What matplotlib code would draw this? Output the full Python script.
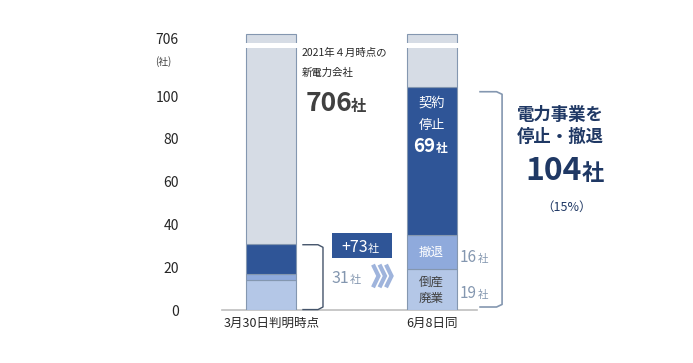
import numpy as np
import matplotlib
matplotlib.use("Agg")
import matplotlib.pyplot as plt
from matplotlib.patches import Rectangle

plt.rcParams['font.family'] = ['Noto Sans CJK JP', 'DejaVu Sans']

# ---- data ----
categories = ["3月30日判明時点", "6月8日同"]
total_companies = 706
seg_bottom = [14, 19]     # 倒産・廃業 (light)
seg_mid = [3, 16]         # 撤退
seg_top = [14, 69]        # 契約停止
ytick_vals = [0, 20, 40, 60, 80, 100]

c_light = '#b4c7e7'
c_mid = '#8faadc'
c_dark = '#2f5597'
c_rest = '#d6dce5'
c_edge = '#8497b0'
c_navy = '#1f3864'
c_gb = '#8497b0'

# broken-axis scale
BRK = 120.0
K = 9.0 / (total_companies - BRK)


def fwd(v):
    v = np.asarray(v, dtype=float)
    return np.where(v <= BRK, v, BRK + (v - BRK) * K)


def inv(d):
    d = np.asarray(d, dtype=float)
    return np.where(d <= BRK, d, BRK + (d - BRK) / K)


fig = plt.figure(figsize=(6.93, 3.63), dpi=100)
ax = fig.add_axes([222 / 693, 53 / 363, 255 / 693, 2.14 * 130 / 363])
ax.set_yscale('function', functions=(fwd, inv))
ax.set_xlim(-0.309, 1.284)
ax.set_ylim(0, float(inv(130)))

x = np.arange(len(categories))
w = 0.3125
b = np.array(seg_bottom)
m = np.array(seg_mid)
t = np.array(seg_top)
rest = total_companies - (b + m + t)

ax.bar(x, b, w, color=c_light, edgecolor=c_edge, linewidth=0.8, zorder=2)
ax.bar(x, m, w, bottom=b, color=c_mid, edgecolor=c_edge, linewidth=0.8, zorder=2)
ax.bar(x, t, w, bottom=b + m, color=c_dark, edgecolor=c_edge, linewidth=0.8, zorder=2)
ax.bar(x, rest, w, bottom=b + m + t, color=c_rest, edgecolor=c_edge, linewidth=0.8, zorder=2)

# break gap
g0, g1 = float(inv(122.2)), float(inv(124.6))
for xi in x:
    ax.add_patch(Rectangle((xi - w / 2 - 0.02, g0), w + 0.04, g1 - g0,
                           facecolor='white', edgecolor='none', zorder=3, clip_on=False))

# axes styling
for s in ['top', 'right', 'left']:
    ax.spines[s].set_visible(False)
ax.spines['bottom'].set_color('#bfbfbf')
ax.spines['bottom'].set_linewidth(1.2)
ax.spines['bottom'].set_zorder(1)
ax.set_xticks(x)
ax.set_xticklabels(categories, fontsize=9, color='#262626')
ax.tick_params(axis='x', length=0, pad=5)
ax.set_yticks(ytick_vals + [float(inv(127.1))])
ax.set_yticklabels([str(v) for v in ytick_vals] + [str(total_companies)], fontsize=10, color='#262626')
ax.tick_params(axis='y', length=0, pad=31)
ax.yaxis.set_minor_locator(matplotlib.ticker.NullLocator())

ax.text(-0.678, 116, "(社)", fontsize=7, color='#404040', ha='center', va='center', clip_on=False)

renderer = fig.canvas.get_renderer()


def px(p):
    return (p - 271.5) / 160.0


def num_unit(xleft_px, y, num, nsize, usize, color, weight='normal', gap=1.0, z=4):
    tn = ax.text(px(xleft_px), y, num, fontsize=nsize, fontweight=weight, color=color,
                 ha='left', va='baseline', zorder=z, clip_on=False)
    bb = tn.get_window_extent(renderer=renderer)
    xr = ax.transData.inverted().transform((bb.x1 + gap, 0))[0]
    ax.text(xr, y, "社", fontsize=usize, fontweight=weight, color=color,
            ha='left', va='baseline', zorder=z, clip_on=False)


# annotations bar 1
ax.text(px(302), 120, "2021年４月時点の", fontsize=7.5, color='#262626', ha='left', va='center')
ax.text(px(302), 110.7, "新電力会社", fontsize=7.5, color='#262626', ha='left', va='center')
num_unit(306, 93, str(total_companies), 19, 11, '#404040', weight='bold', gap=-1.5)

# bar 2 labels
ax.text(1, 96.7, "契約", fontsize=9.5, color='white', ha='center', va='center', zorder=4)
ax.text(1, 86.4, "停止", fontsize=9.5, color='white', ha='center', va='center', zorder=4)
num_unit(413, 73.8, str(seg_top[1]), 13.5, 8.5, 'white', weight='bold')
ax.text(1, 27, "撤退", fontsize=9, color='white', ha='center', va='center', zorder=4)
ax.text(1, 13.2, "倒産", fontsize=9, color='#404040', ha='center', va='center', zorder=4)
ax.text(1, 5.6, "廃業", fontsize=9, color='#404040', ha='center', va='center', zorder=4)

num_unit(460, 22.4, str(seg_mid[1]), 11, 7.5, c_gb)
num_unit(460, 5.6, str(seg_bottom[1]), 11, 7.5, c_gb)

# +73 box
first_total = sum([seg_bottom[0], seg_mid[0], seg_top[0]])
second_total = seg_bottom[1] + seg_mid[1] + seg_top[1]
ax.add_patch(Rectangle((px(332), 24.3), px(392) - px(332), 11.7, facecolor=c_dark,
                       edgecolor='none', zorder=3))
num_unit(341, 27, "+" + str(second_total - first_total), 11.5, 8, 'white', gap=0.5)

num_unit(332, 12.6, str(first_total), 11.5, 8, c_gb, gap=0.5)

# chevrons
for k in range(3):
    x0 = px(373 + 6.5 * k)
    x1 = px(378.5 + 6.5 * k)
    ax.plot([x0, x1, x0], [21.2, 15.9, 10.6], color='#9fb4dc', lw=3.0,
            solid_joinstyle='miter', solid_capstyle='butt', zorder=3)


# brackets
def bracket(xl, xr, ytop, ybot, color, lw):
    r = (xr - xl) * 0.25
    ry = 1.2
    xs = [xl, xr - r, xr, xr, xr - r, xl]
    ys = [ytop, ytop, ytop - ry, ybot + ry, ybot, ybot]
    ax.plot(xs, ys, color=color, lw=lw, clip_on=False, solid_joinstyle='round', zorder=3)


bracket(px(303), px(323), 30.5, 0.2, '#44546a', 1.0)
bracket(px(480), px(502), 102.0, 1.4, c_gb, 1.2)

# right side summary
ax.text(px(560), 91, "電力事業を", fontsize=12.5, fontweight='bold', color=c_navy,
        ha='center', va='center', clip_on=False)
ax.text(px(560), 80.8, "停止・撤退", fontsize=12.5, fontweight='bold', color=c_navy,
        ha='center', va='center', clip_on=False)
num_unit(525, 60.7, str(second_total), 23, 16, c_navy, weight='bold', gap=0.5)
ax.text(px(566), 48, "（" + str(round(second_total / total_companies * 100)) + "%）", fontsize=9,
        color=c_navy, ha='center', va='center', clip_on=False)

fig.savefig("out.png", dpi=100)
